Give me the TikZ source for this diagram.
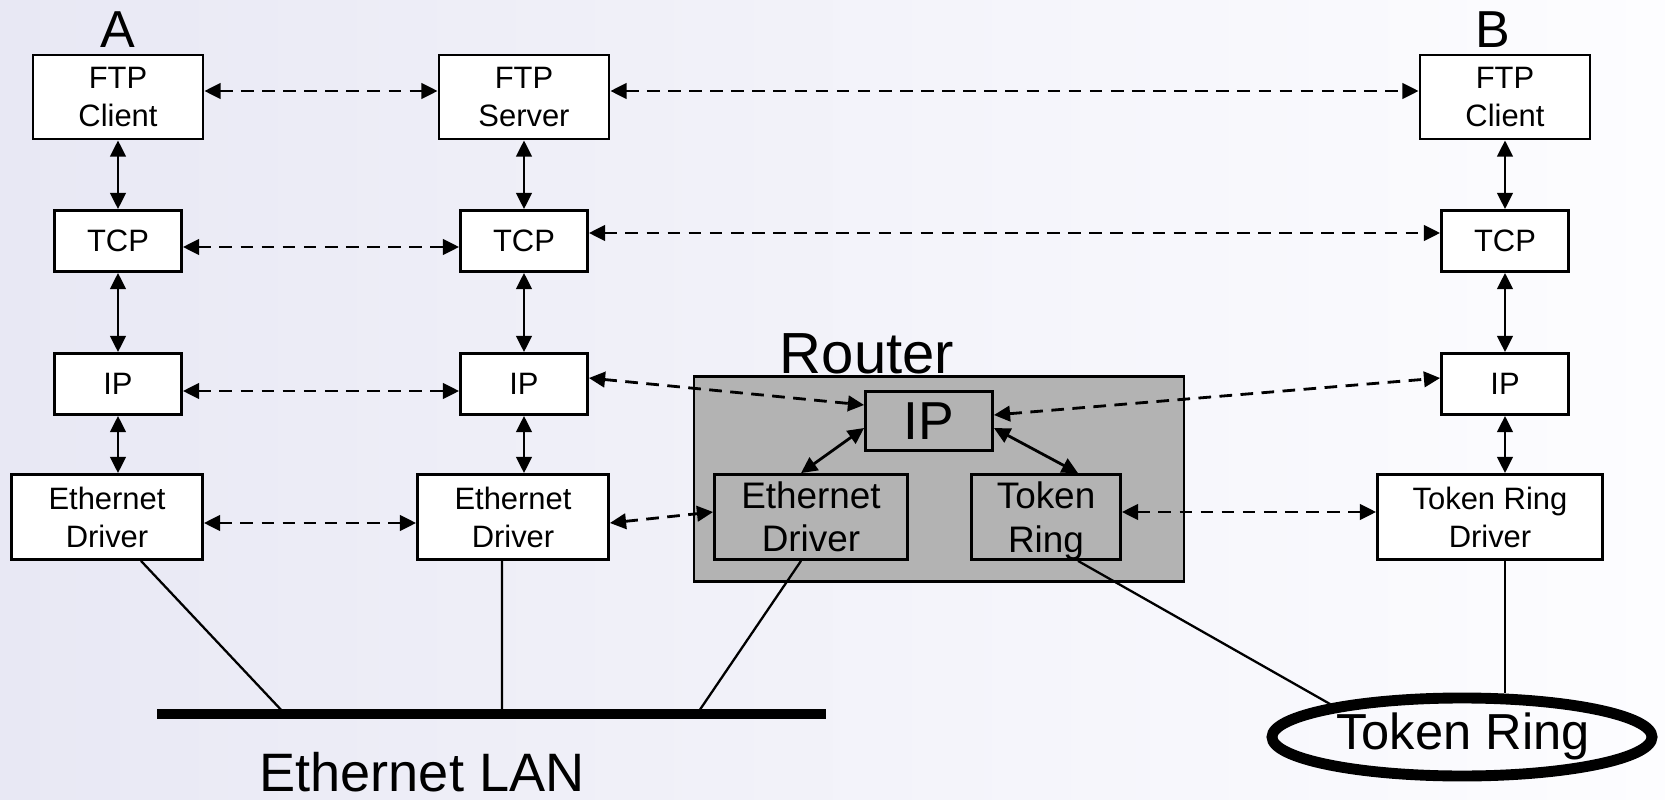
\documentclass[tikz,border=0pt]{standalone}
\usepackage{fontspec}
\setmainfont{Liberation Sans}
\usepackage{tikz}
\usetikzlibrary{shapes,arrows.meta,positioning,calc}
\definecolor{routerGray}{RGB}{179,179,179}
\definecolor{bgLeft}{RGB}{232,232,244}
\definecolor{bgRight}{RGB}{253,253,255}

\begin{document}
\begin{tikzpicture}[
  every node/.style={font=\fontsize{8.8}{10.8}\selectfont},
  layer/.style={draw, line width=0.8pt, fill=white, align=center, inner sep=0pt},
  ftpbox/.style={layer, minimum width=1.70cm, minimum height=0.84cm},
  tcpbox/.style={layer, minimum width=1.27cm, minimum height=0.61cm},
  drvbox/.style={layer, minimum width=1.91cm, minimum height=0.85cm},
  inner/.style={draw, line width=0.8pt, fill=routerGray, align=center, inner sep=0pt,
    font=\fontsize{10.5}{12.4}\selectfont},
  big/.style={font=\fontsize{15.4}{18}\selectfont},
  host/.style={font=\fontsize{14.8}{17}\selectfont},
  link/.style={{Triangle[length=4.6pt,width=4.4pt]}-{Triangle[length=4.6pt,width=4.4pt]}, line width=0.8pt},
  peer/.style={link, dash pattern=on 3.6pt off 2.4pt},
  wire/.style={line width=0.65pt},
]
  % backdrop
  \shade[left color=bgLeft, right color=bgRight] (0,0) rectangle (16.65,7.99);
  \useasboundingbox (0,0) rectangle (16.65,7.99);

  % Router enclosure and its layers
  \node[draw, line width=0.8pt, fill=routerGray, minimum width=4.90cm, minimum height=2.05cm, inner sep=0pt]
    (router) at (9.39,3.20) {};
  \node[font=\fontsize{16.5}{19}\selectfont] (routerName) at (8.67,4.45) {Router};
  \node[inner, font=\fontsize{15.2}{17}\selectfont, minimum width=1.27cm, minimum height=0.59cm]
    (ipR) at (9.29,3.78) {IP};
  \node[inner, minimum width=1.93cm, minimum height=0.85cm] (drvR) at (8.11,2.82) {Ethernet\\Driver};
  \node[inner, minimum width=1.49cm, minimum height=0.85cm] (trR) at (10.46,2.82)
    {Token\\\raisebox{0pt}[\height][0pt]{Ring}};

  % Host A
  \node[host] (nameA) at (1.18,7.69) {A};
  \node[ftpbox] (ftpA) at (1.18,7.02) {FTP\\Client};
  \node[tcpbox] (tcpA) at (1.18,5.58) {TCP};
  \node[tcpbox] (ipA) at (1.18,4.15) {IP};
  \node[drvbox] (drvA) at (1.07,2.82) {Ethernet\\Driver};

  % Server
  \node[ftpbox] (ftpS) at (5.24,7.02) {FTP\\Server};
  \node[tcpbox] (tcpS) at (5.24,5.58) {TCP};
  \node[tcpbox] (ipS) at (5.24,4.15) {IP};
  \node[drvbox] (drvS) at (5.13,2.82) {Ethernet\\Driver};

  % Host B
  \node[host] (nameB) at (14.93,7.69) {B};
  \node[ftpbox] (ftpB) at (15.05,7.02) {FTP\\Client};
  \node[tcpbox] (tcpB) at (15.05,5.58) {TCP};
  \node[tcpbox] (ipB) at (15.05,4.15) {IP};
  \node[drvbox, minimum width=2.25cm] (drvB) at (14.90,2.82) {Token Ring\\Driver};

  % networks
  \coordinate (lanL) at (1.57,0.85);
  \coordinate (lanR) at (8.26,0.85);
  \coordinate (tapA) at (2.85,0.85);
  \coordinate (tapS) at (5.02,0.85);
  \coordinate (tapR) at (6.97,0.85);
  \draw[line width=2.7pt] (lanL) -- (lanR);
  \node[big] (lanName) at (4.22,0.27) {Ethernet LAN};
  \node[draw, ellipse, line width=3.1pt, minimum width=3.80cm, minimum height=0.78cm, inner sep=0pt]
    (ring) at (14.62,0.62) {};
  \node[font=\fontsize{14.4}{17}\selectfont] (ringName) at (14.63,0.63) {Token Ring};

  % stacks
  \foreach \c in {A,S,B} {
    \draw[link] (ftp\c) -- (tcp\c);
    \draw[link] (tcp\c) -- (ip\c);
    \draw[link] (ip\c) -- (ip\c |- drv\c.north);
  }
  \draw[link] ([yshift=-0.07cm]ipR.west) -- ([xshift=-0.10cm]drvR.north);
  \draw[link] ([yshift=-0.07cm]ipR.east) -- ([xshift=0.32cm]trR.north);

  % peer-to-peer exchanges
  \draw[peer] ([yshift=0.06cm]ftpA.east) -- ([yshift=0.06cm]ftpS.west);
  \draw[peer] ([yshift=0.06cm]ftpS.east) -- ([yshift=0.06cm]ftpB.west);
  \draw[peer] ([yshift=-0.06cm]tcpA.east) -- ([yshift=-0.06cm]tcpS.west);
  \draw[peer] ([yshift=0.08cm]tcpS.east) -- ([yshift=0.08cm]tcpB.west);
  \draw[peer] ([yshift=-0.07cm]ipA.east) -- ([yshift=-0.07cm]ipS.west);
  \draw[peer] ([yshift=0.06cm]ipS.east) -- ([yshift=0.16cm]ipR.west);
  \draw[peer] ([yshift=0.06cm]ipR.east) -- ([yshift=0.06cm]ipB.west);
  \draw[peer] ([yshift=-0.06cm]drvA.east) -- ([yshift=-0.06cm]drvS.west);
  \draw[peer] ([yshift=-0.06cm]drvS.east) -- ([yshift=0.05cm]drvR.west);
  \draw[peer] ([yshift=0.05cm]trR.east) -- ([yshift=0.05cm]drvB.west);

  % attachments to the media
  \draw[wire] ([xshift=0.34cm]drvA.south) -- (tapA);
  \draw[wire] ([xshift=-0.11cm]drvS.south) -- (tapS);
  \draw[wire] ([xshift=-0.10cm]drvR.south) -- (tapR);
  \draw[wire] ([xshift=0.32cm]trR.south) -- (ring.166);
  \coordinate (tapB) at ([xshift=0.15cm]drvB.south);
  \draw[wire] (tapB) -- (tapB |- ring.north);
\end{tikzpicture}
\end{document}
